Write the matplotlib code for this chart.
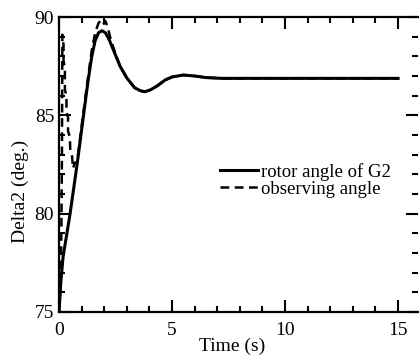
"""Rotor angle of generator G2 against the observer's estimate after a fault."""

import matplotlib
matplotlib.use('Agg')
import matplotlib.pyplot as plt
from matplotlib.ticker import MultipleLocator

# Rotor angle of G2 (deg) vs time (s).
rotor_t = [0, 0.08, 0.18, 0.49, 0.8, 1.05, 1.28, 1.45, 1.6, 1.75, 1.9,
           2.05, 2.2, 2.45, 2.7, 3.0, 3.35, 3.6, 3.8, 4.05, 4.35, 4.7,
           5.0, 5.5, 6.0, 6.5, 7.2, 10.0, 15.0]
rotor_angle = [75, 76.5, 77.8, 80.0, 82.5, 84.7, 86.7, 88.0, 88.8, 89.2,
               89.3, 89.2, 88.9, 88.2, 87.5, 86.9, 86.4, 86.25, 86.2, 86.3,
               86.5, 86.8, 86.95, 87.05, 87.0, 86.92, 86.88, 86.88, 86.88]

# Observer output: jumps up early, steps back down, then tracks the rotor.
obs_t = [0, 0.05, 0.1, 0.13, 0.15, 0.2, 0.2, 0.26, 0.26, 0.33, 0.33, 0.4,
         0.4, 0.48, 0.5, 0.58, 0.62, 0.7, 0.8, 1.05, 1.28, 1.45, 1.6, 1.75,
         1.85, 1.95, 2.05, 2.15, 2.3, 2.45, 2.7, 3.0, 3.35, 3.6, 3.8, 4.05,
         4.35, 4.7, 5.0, 5.5, 6.0, 6.5, 7.2, 10.0, 15.0]
obs_angle = [75, 76, 78.5, 83, 89.1, 88.6, 87.8, 87.4, 86.3, 86.0, 85.2,
             84.9, 84.2, 83.9, 83.2, 82.9, 82.3, 82.6, 82.6, 84.9, 86.9,
             88.3, 89.2, 89.7, 89.8, 89.6, 89.8, 89.5, 88.8, 88.3, 87.5,
             86.9, 86.4, 86.25, 86.2, 86.3, 86.5, 86.8, 86.95, 87.05, 87.0,
             86.92, 86.88, 86.88, 86.88]

plt.rcParams['font.family'] = ['Liberation Serif', 'DejaVu Serif']

fig = plt.figure(figsize=(4.19, 3.58), dpi=100)
ax = fig.add_axes([59 / 419, 1 - 312 / 358, 359 / 419, 295 / 358])

ax.plot(rotor_t, rotor_angle, color='black', lw=2.2, label='rotor angle of G2')
ax.plot(obs_t, obs_angle, color='black', lw=1.8, ls=(0, (3.5, 2.2)),
        label='observing angle')

ax.set_xlim(0, 15.88)
ax.set_ylim(75, 90)
ax.xaxis.set_major_locator(MultipleLocator(5))
ax.xaxis.set_minor_locator(MultipleLocator(1))
ax.yaxis.set_major_locator(MultipleLocator(5))
ax.yaxis.set_minor_locator(MultipleLocator(1))
ax.tick_params(which='both', direction='in', top=True, right=True,
               width=1.5, labelsize=14, color='black')
ax.tick_params(which='major', length=8.5)
ax.tick_params(which='minor', length=4.5)
ax.tick_params(axis='x', which='major', pad=7)
ax.tick_params(axis='y', which='major', pad=3.5)
ax.spines['right'].set_visible(False)
for side in ('left', 'top', 'bottom'):
    ax.spines[side].set_linewidth(1.6)

ax.set_xlabel('Time (s)', fontsize=14)
ax.set_ylabel('Delta2 (deg.)', fontsize=14)
ax.xaxis.set_label_coords((232 - 59) / 359, -(338 - 312) / 295)
ax.yaxis.set_label_coords(-(59 - 29) / 359, (312 - 191) / 295)

ax.legend(loc='center left', bbox_to_anchor=(220 / 419, 1 - 180.5 / 358),
          bbox_transform=fig.transFigure, frameon=False, fontsize=13.5,
          borderpad=0, borderaxespad=0, handlelength=2.0,
          handletextpad=0.2, labelspacing=0.0)

fig.savefig('out.png', dpi=100)
